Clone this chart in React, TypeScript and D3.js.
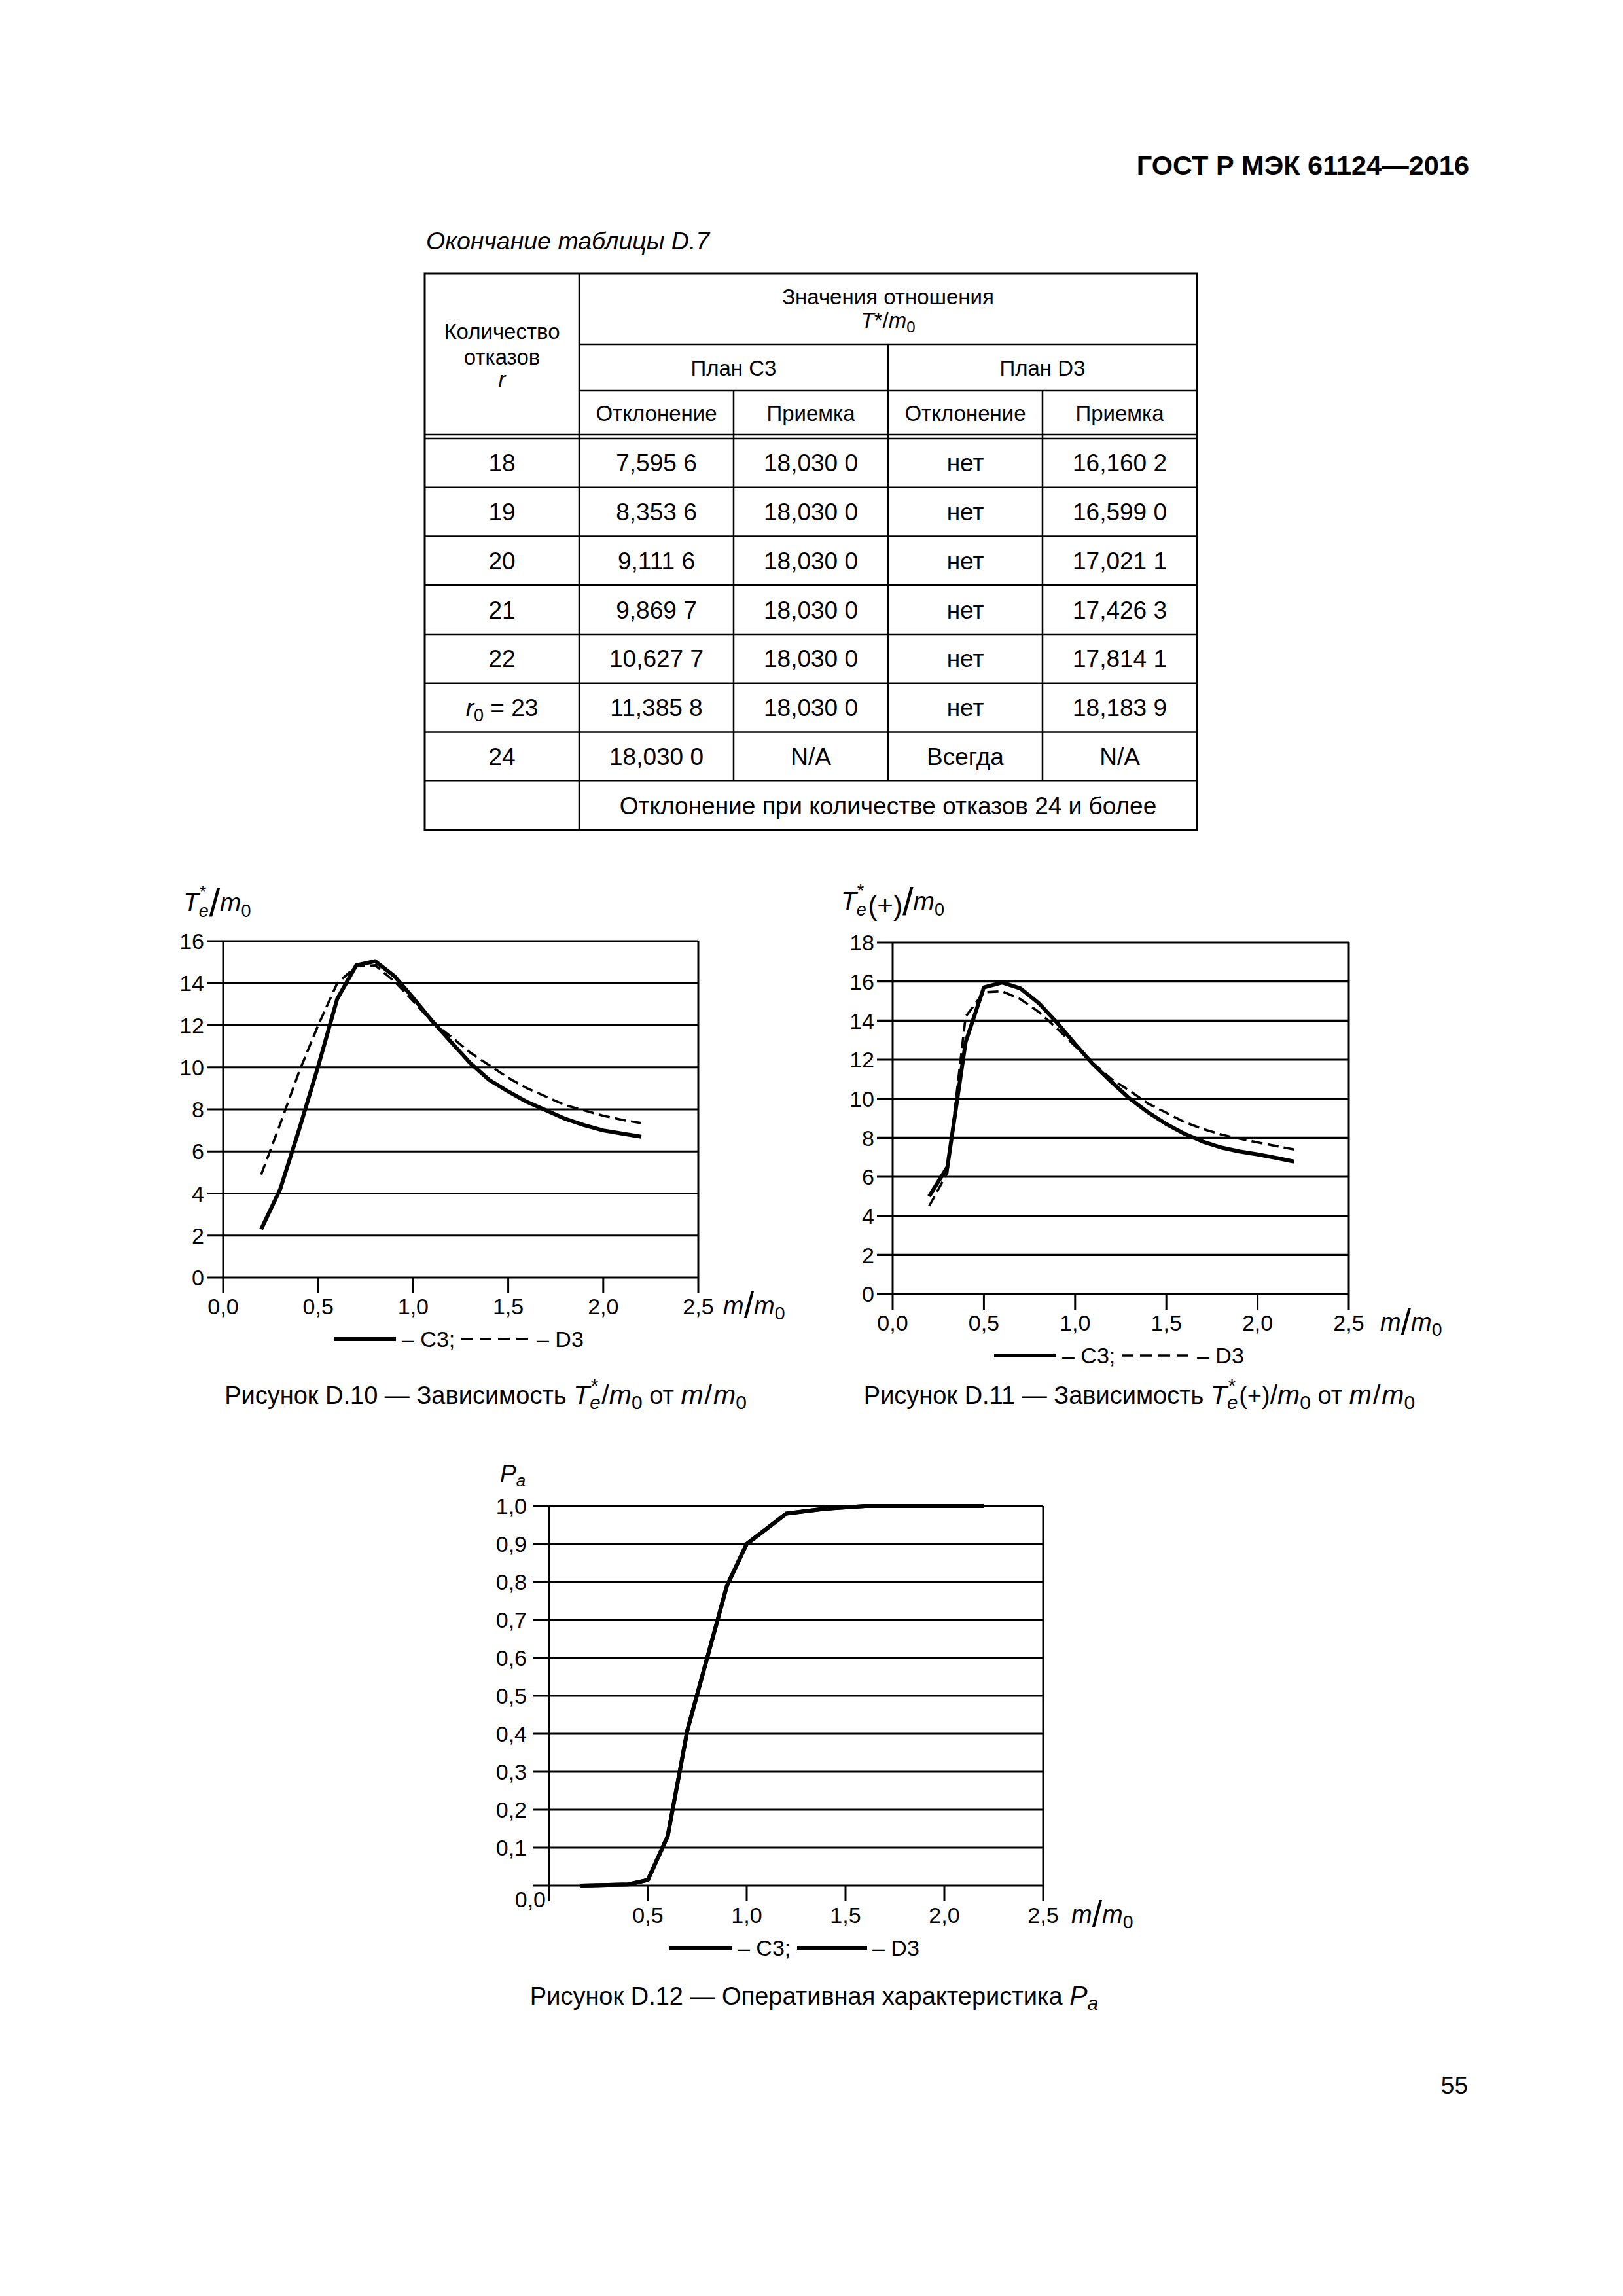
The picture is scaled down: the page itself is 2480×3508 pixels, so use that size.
import React from 'react';
import * as d3 from 'd3';

const FONT = '"Liberation Sans", Arial, Helvetica, sans-serif';

// ---------- Table D.7 (end) ----------
const tableR = ['18', '19', '20', '21', '22', 'r0 = 23', '24'];
const c3Reject = ['7,595 6', '8,353 6', '9,111 6', '9,869 7', '10,627 7', '11,385 8', '18,030 0'];
const c3Accept = ['18,030 0', '18,030 0', '18,030 0', '18,030 0', '18,030 0', '18,030 0', 'N/A'];
const d3Reject = ['нет', 'нет', 'нет', 'нет', 'нет', 'нет', 'Всегда'];
const d3Accept = ['16,160 2', '16,599 0', '17,021 1', '17,426 3', '17,814 1', '18,183 9', 'N/A'];
const tableFooter = 'Отклонение при количестве отказов 24 и более';

// ---------- Chart data ----------
const xTicks = [0, 0.5, 1.0, 1.5, 2.0, 2.5];
const xTickLabels = ['0,0', '0,5', '1,0', '1,5', '2,0', '2,5'];

const mRatio = [0.2, 0.3, 0.4, 0.5, 0.6, 0.7, 0.8, 0.9, 1.0, 1.1, 1.2, 1.3, 1.4, 1.5, 1.6, 1.7, 1.8, 1.9, 2.0, 2.1, 2.2];

// Figure D.10: Te*/m0
const d10Ticks = [0, 2, 4, 6, 8, 10, 12, 14, 16];
const d10C3 = [2.3, 4.2, 7.05, 10.05, 13.25, 14.85, 15.05, 14.35, 13.3, 12.2, 11.2, 10.2, 9.4, 8.85, 8.35, 7.95, 7.55, 7.25, 7.0, 6.85, 6.7];
const d10D3 = [4.9, 7.3, 9.8, 12.0, 14.0, 14.8, 14.85, 14.1, 13.15, 12.15, 11.45, 10.7, 10.1, 9.5, 9.0, 8.6, 8.2, 7.95, 7.7, 7.5, 7.35];

// Figure D.11: Te*(+)/m0
const d11Ticks = [0, 2, 4, 6, 8, 10, 12, 14, 16, 18];
const d11C3 = [5.0, 6.5, 12.9, 15.7, 15.95, 15.65, 14.9, 13.9, 12.8, 11.75, 10.85, 10.0, 9.3, 8.7, 8.2, 7.8, 7.5, 7.3, 7.15, 6.97, 6.78];
const d11D3 = [4.5, 6.2, 14.2, 15.45, 15.5, 15.1, 14.45, 13.6, 12.7, 11.8, 11.0, 10.4, 9.75, 9.28, 8.8, 8.45, 8.17, 7.95, 7.76, 7.58, 7.4];

// Figure D.12: Pa
const d12Ticks = [0, 0.1, 0.2, 0.3, 0.4, 0.5, 0.6, 0.7, 0.8, 0.9, 1.0];
const d12TickLabels = ['0,0', '0,1', '0,2', '0,3', '0,4', '0,5', '0,6', '0,7', '0,8', '0,9', '1,0'];
const paX = [0.16, 0.4, 0.5, 0.6, 0.7, 0.8, 0.9, 1.0, 1.2, 1.4, 1.6, 2.2];
const paC3 = [0.0, 0.003, 0.015, 0.13, 0.41, 0.6, 0.79, 0.9, 0.98, 0.993, 1.0, 1.0];
const paD3 = [0.0, 0.003, 0.015, 0.13, 0.41, 0.6, 0.79, 0.9, 0.98, 0.993, 1.0, 1.0];

type Series = { xs: number[]; ys: number[]; dashed?: boolean };

function Plot(props: {
  left: number; right: number; top: number; bottom: number; yMax: number;
  yTicks: number[]; yLabels: string[]; skipY0?: boolean; skipX0?: boolean;
  tickFs: number; yLabelGap: number; xLabelBase: number; series: Series[];
}) {
  const { left, right, top, bottom, yMax, yTicks, yLabels, tickFs, yLabelGap, xLabelBase, series } = props;
  const x = d3.scaleLinear().domain([0, 2.5]).range([left, right]);
  const y = d3.scaleLinear().domain([0, yMax]).range([bottom, top]);
  const tick = 24;
  const mk = (s: Series) =>
    d3.line<number>().x((_, i) => x(s.xs[i])).y((d) => y(d))(s.ys) || '';
  return (
    <g>
      {yTicks.map((t) => (
        <line key={'g' + t} x1={left - tick} x2={right} y1={y(t)} y2={y(t)} stroke="#000" strokeWidth={3.2} />
      ))}
      {xTicks.map((t) => (
        <line key={'v' + t} x1={x(t)} x2={x(t)} y1={t === 0 || t === 2.5 ? top : bottom} y2={bottom + tick} stroke="#000" strokeWidth={3} />
      ))}
      {yTicks.map((t, i) =>
        props.skipY0 && t === 0 ? null : (
          <text key={'yl' + t} x={left - yLabelGap} y={y(t) + tickFs * 0.36} textAnchor="end" fontSize={tickFs}>
            {yLabels[i]}
          </text>
        )
      )}
      {xTicks.map((t, i) =>
        props.skipX0 && t === 0 ? null : (
          <text key={'xl' + t} x={x(t)} y={xLabelBase} textAnchor="middle" fontSize={tickFs}>
            {xTickLabels[i]}
          </text>
        )
      )}
      {series.filter((s) => s.dashed).map((s, i) => (
        <path key={'d' + i} d={mk(s)} fill="none" stroke="#000" strokeWidth={3.6} strokeDasharray="17 8" />
      ))}
      {series.filter((s) => !s.dashed).map((s, i) => (
        <path key={'s' + i} d={mk(s)} fill="none" stroke="#000" strokeWidth={6} strokeLinejoin="round" />
      ))}
    </g>
  );
}

function MOverM0({ x, y, fs = 38 }: { x: number; y: number; fs?: number }) {
  return (
    <text x={x} y={y} fontSize={fs}>
      <tspan fontStyle="italic">m</tspan>
      <tspan fontSize={fs * 1.45} dy={5}>/</tspan>
      <tspan fontStyle="italic" dy={-5}>m</tspan>
      <tspan fontSize={fs * 0.75} dy={8}>0</tspan>
    </text>
  );
}

function Legend({ x, y, dashed }: { x: number; y: number; dashed: boolean }) {
  const fs = 34;
  return (
    <g>
      <line x1={x} x2={x + 95} y1={y} y2={y} stroke="#000" strokeWidth={6} />
      <text x={x + 104} y={y + 12} fontSize={fs}>– C3;</text>
      <line x1={x + 195} x2={x + 302} y1={y} y2={y} stroke="#000" strokeWidth={dashed ? 3.6 : 6} strokeDasharray={dashed ? '18 10' : undefined} />
      <text x={x + 310} y={y + 12} fontSize={fs}>– D3</text>
    </g>
  );
}

// caption math piece "Te*"
function TeStar({ fs }: { fs: number }) {
  const s = fs * 0.72;
  return (
    <>
      <tspan fontStyle="italic">T</tspan>
      <tspan fontStyle="italic" fontSize={s} dy={8}>e</tspan>
      <tspan fontSize={s} dx={-s * 0.5} dy={-26}>*</tspan>
    </>
  );
}

export default function App() {
  const tx = [649, 885, 1121, 1357, 1593, 1829];
  const tTop = 418;
  const rowTop = 670;
  const rowH = 74.75;
  const rowsY = d3.range(9).map((i) => rowTop + i * rowH);
  const bodyFs = 37;
  const headFs = 33;
  const colC = (i: number) => (tx[i] + tx[i + 1]) / 2;
  const lw = 2.5;
  const capFs = 38;
  const mathFs = 41;

  return (
    <svg width={2480} height={3508} style={{ position: 'absolute', left: 0, top: 0, display: 'block' }} fontFamily={FONT} fill="#000">
      <rect x={0} y={0} width={2480} height={3508} fill="#fff" />

      {/* Page header */}
      <text x={2245} y={267} textAnchor="end" fontSize={41.5} fontWeight="bold">ГОСТ Р МЭК 61124—2016</text>

      {/* Table caption */}
      <text x={651} y={381} fontSize={37.5} fontStyle="italic">Окончание таблицы D.7</text>

      {/* Table grid */}
      <g stroke="#000" strokeWidth={lw}>
        <rect x={tx[0]} y={tTop} width={tx[5] - tx[0]} height={rowsY[8] - tTop} fill="none" strokeWidth={3} />
        <line x1={tx[1]} x2={tx[1]} y1={tTop} y2={rowsY[8]} />
        <line x1={tx[1]} x2={tx[5]} y1={526} y2={526} />
        <line x1={tx[1]} x2={tx[5]} y1={597} y2={597} />
        <line x1={tx[0]} x2={tx[5]} y1={664} y2={664} />
        <line x1={tx[0]} x2={tx[5]} y1={670} y2={670} />
        <line x1={tx[3]} x2={tx[3]} y1={526} y2={rowsY[7]} />
        <line x1={tx[2]} x2={tx[2]} y1={597} y2={rowsY[7]} />
        <line x1={tx[4]} x2={tx[4]} y1={597} y2={rowsY[7]} />
        {rowsY.slice(1, 8).map((yy, i) => (
          <line key={i} x1={tx[0]} x2={tx[5]} y1={yy} y2={yy} />
        ))}
      </g>

      {/* Table header text */}
      <g fontSize={headFs} textAnchor="middle">
        <text x={colC(0)} y={518}>Количество</text>
        <text x={colC(0)} y={557}>отказов</text>
        <text x={colC(0)} y={591} fontStyle="italic">r</text>
        <text x={1357} y={465}>Значения отношения</text>
        <text x={1357} y={501}>
          <tspan fontStyle="italic">T</tspan>*/<tspan fontStyle="italic">m</tspan>
          <tspan fontSize={24} dy={7}>0</tspan>
        </text>
        <text x={1121} y={574}>План C3</text>
        <text x={1593} y={574}>План D3</text>
        <text x={colC(1)} y={643}>Отклонение</text>
        <text x={colC(2)} y={643}>Приемка</text>
        <text x={colC(3)} y={643}>Отклонение</text>
        <text x={colC(4)} y={643}>Приемка</text>
      </g>

      {/* Table body */}
      <g fontSize={bodyFs} textAnchor="middle">
        {tableR.map((r, i) => {
          const by = rowsY[i] + rowH / 2 + 13;
          return (
            <g key={i}>
              {r.startsWith('r0') ? (
                <text x={colC(0)} y={by}>
                  <tspan fontStyle="italic">r</tspan>
                  <tspan fontSize={27} dy={8}>0</tspan>
                  <tspan dy={-8}>{' = 23'}</tspan>
                </text>
              ) : (
                <text x={colC(0)} y={by}>{r}</text>
              )}
              <text x={colC(1)} y={by}>{c3Reject[i]}</text>
              <text x={colC(2)} y={by}>{c3Accept[i]}</text>
              <text x={colC(3)} y={by}>{d3Reject[i]}</text>
              <text x={colC(4)} y={by}>{d3Accept[i]}</text>
            </g>
          );
        })}
        <text x={1357} y={rowsY[7] + rowH / 2 + 13}>{tableFooter}</text>
      </g>

      {/* ---------- Figure D.10 ---------- */}
      <text x={280} y={1392} fontSize={39}>
        <tspan fontStyle="italic">T</tspan>
        <tspan fontStyle="italic" fontSize={27} dy={9}>e</tspan>
        <tspan fontSize={27} dx={-14} dy={-29}>*</tspan>
        <tspan fontSize={60} dx={4} dy={28}>/</tspan>
        <tspan fontStyle="italic" dy={-8}>m</tspan>
        <tspan fontSize={27} dy={9}>0</tspan>
      </text>
      <Plot
        left={341} right={1067} top={1438} bottom={1952} yMax={16}
        yTicks={d10Ticks} yLabels={d10Ticks.map(String)}
        tickFs={34} yLabelGap={29} xLabelBase={2008}
        series={[{ xs: mRatio, ys: d10D3, dashed: true }, { xs: mRatio, ys: d10C3 }]}
      />
      <MOverM0 x={1105} y={2008} />
      <Legend x={510} y={2046} dashed={true} />
      <text x={742} y={2145} fontSize={capFs} textAnchor="middle">
        {'Рисунок D.10 — Зависимость '}
        <tspan fontSize={mathFs}>
          <TeStar fs={mathFs} />
          <tspan dx={5} dy={18}>/</tspan>
          <tspan fontStyle="italic">m</tspan>
          <tspan fontSize={30} dy={8}>0</tspan>
          <tspan fontSize={capFs} dy={-8}>{' от '}</tspan>
          <tspan fontStyle="italic">m</tspan>
          <tspan dx={2}>/</tspan>
          <tspan fontStyle="italic" dx={2}>m</tspan>
          <tspan fontSize={30} dy={8}>0</tspan>
        </tspan>
      </text>

      {/* ---------- Figure D.11 ---------- */}
      <text x={1285} y={1390} fontSize={39}>
        <tspan fontStyle="italic">T</tspan>
        <tspan fontStyle="italic" fontSize={27} dy={9}>e</tspan>
        <tspan fontSize={27} dx={-14} dy={-29}>*</tspan>
        <tspan fontSize={42} dx={6} dy={28}>(+)</tspan>
        <tspan fontSize={60}>/</tspan>
        <tspan fontStyle="italic" dy={-8}>m</tspan>
        <tspan fontSize={27} dy={9}>0</tspan>
      </text>
      <Plot
        left={1364} right={2061} top={1440} bottom={1977} yMax={18}
        yTicks={d11Ticks} yLabels={d11Ticks.map(String)}
        tickFs={34} yLabelGap={28} xLabelBase={2033}
        series={[{ xs: mRatio, ys: d11D3, dashed: true }, { xs: mRatio, ys: d11C3 }]}
      />
      <MOverM0 x={2109} y={2033} />
      <Legend x={1519} y={2071} dashed={true} />
      <text x={1741} y={2145} fontSize={capFs} textAnchor="middle">
        {'Рисунок D.11 — Зависимость '}
        <tspan fontSize={mathFs}>
          <TeStar fs={mathFs} />
          <tspan fontSize={capFs} dx={5} dy={18}>(+)</tspan>
          <tspan>/</tspan>
          <tspan fontStyle="italic">m</tspan>
          <tspan fontSize={30} dy={8}>0</tspan>
          <tspan fontSize={capFs} dy={-8}>{' от '}</tspan>
          <tspan fontStyle="italic">m</tspan>
          <tspan dx={2}>/</tspan>
          <tspan fontStyle="italic" dx={2}>m</tspan>
          <tspan fontSize={30} dy={8}>0</tspan>
        </tspan>
      </text>

      {/* ---------- Figure D.12 ---------- */}
      <text x={764} y={2264} fontSize={37}>
        <tspan fontStyle="italic">P</tspan>
        <tspan fontStyle="italic" fontSize={26} dy={7}>a</tspan>
      </text>
      <Plot
        left={839} right={1594} top={2301} bottom={2881} yMax={1}
        yTicks={d12Ticks} yLabels={d12TickLabels} skipY0 skipX0
        tickFs={34} yLabelGap={34} xLabelBase={2938}
        series={[{ xs: paX, ys: paD3 }, { xs: paX, ys: paC3 }]}
      />
      <text x={834} y={2914} fontSize={34} textAnchor="end">0,0</text>
      <MOverM0 x={1637} y={2938} />
      <Legend x={1023} y={2976} dashed={false} />
      <text x={1244} y={3063} fontSize={capFs} textAnchor="middle">
        {'Рисунок D.12 — Оперативная характеристика '}
        <tspan fontStyle="italic" fontSize={mathFs}>P</tspan>
        <tspan fontStyle="italic" fontSize={30} dy={8}>a</tspan>
      </text>

      {/* Page number */}
      <text x={2243} y={3199} fontSize={37} textAnchor="end">55</text>
    </svg>
  );
}
